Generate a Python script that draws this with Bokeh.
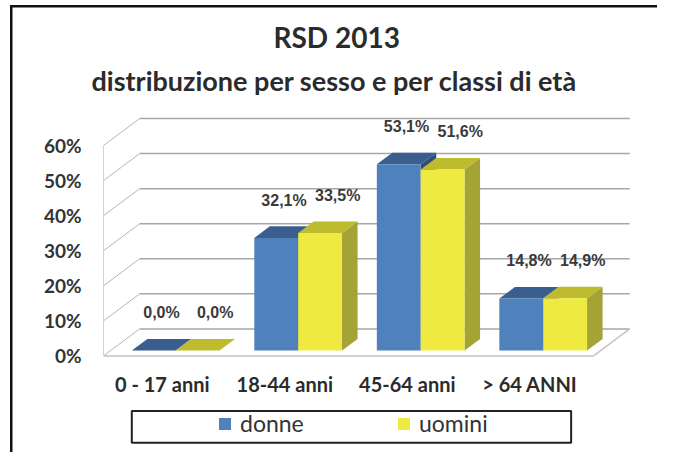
from bokeh.plotting import figure
from bokeh.models import ColumnDataSource, Legend, LegendItem, Title
from bokeh.core.properties import value
from bokeh.embed import file_html
from bokeh.resources import INLINE

# ---------------- data ----------------
categories = ["0 - 17 anni", "18-44 anni", "45-64 anni", "> 64 ANNI"]
donne = [0.0, 32.1, 53.1, 14.8]
uomini = [0.0, 33.5, 51.6, 14.9]
series_names = ["donne", "uomini"]
y_ticks = [0, 10, 20, 30, 40, 50, 60]
y_tick_labels = ["0%", "10%", "20%", "30%", "40%", "50%", "60%"]
title_text = "RSD 2013"
subtitle_text = "distribuzione per sesso e per classi di età"

# ---------------- style / geometry ----------------
FRONT = {"donne": "#4F81BD", "uomini": "#EEEA42"}
TOP = {"donne": "#3A5F8E", "uomini": "#BEBC2E"}
SIDE = {"donne": "#2F4F7A", "uomini": "#A3A336"}
DX, DY = 0.295, 7.7          # depth offset (x units, % units)
Z0, Z1 = 0.2, 0.63           # bar depth span
BAR_W = 0.358
GROUP_OFF = 0.53
LABEL_DX = {"donne": 0.0, "uomini": 0.08}
LABEL_GAP = 12.3
N = len(categories)
FONT = "Lato"
GRID = "#A6A6A6"

p = figure(width=657, height=452, x_range=(0, 4.522), y_range=(-27.55, 72.56),
           output_backend="svg", toolbar_location=None, x_axis_location=None,
           title=None, min_border_left=103, min_border_right=0,
           min_border_top=101, min_border_bottom=0)
p.outline_line_color = None
p.grid.visible = False
p.background_fill_color = "white"
p.border_fill_color = "white"

# chart-area border (only its top and left edges are in view), painted as
# two background strips of an overlay that stays inside the figure box
p.stylesheets = [":host { position: relative; overflow: hidden; } "
                 ":host::after { content: ''; position: absolute; left: 0; top: 0; "
                 "width: 100%; height: 100%; pointer-events: none; z-index: 10; "
                 "background-image: linear-gradient(#111, #111), linear-gradient(#111, #111); "
                 "background-repeat: no-repeat; "
                 "background-position: 10px 5px, 10px 5px; "
                 "background-size: 100% 2.5px, 2.5px 100%; }"]

# titles
sub = Title(text=subtitle_text, align="left", offset=-12, text_font=FONT,
            text_font_size="27px", text_font_style="bold", text_color="#2b2b2b")
tit = Title(text=title_text, align="left", offset=170, text_font=FONT,
            text_font_size="28px", text_font_style="bold", text_color="#2b2b2b",
            standoff=5)
p.add_layout(sub, "above")
p.add_layout(tit, "above")

# y axis
ax = p.yaxis[0]
ax.ticker = y_ticks
ax.major_label_overrides = {t: l for t, l in zip(y_ticks, y_tick_labels)}
ax.axis_line_color = None
ax.major_tick_line_color = None
ax.minor_tick_line_color = None
ax.major_tick_out = 0
ax.major_tick_in = 0
ax.major_label_standoff = 22
ax.major_label_text_font = FONT
ax.major_label_text_font_size = "19px"
ax.major_label_text_font_style = "bold"
ax.major_label_text_color = "#333333"

# walls
top_tick = max(y_ticks)
p.segment(x0=[DX] * len(y_ticks), y0=[t + DY for t in y_ticks],
          x1=[N + DX] * len(y_ticks), y1=[t + DY for t in y_ticks],
          line_color=GRID, line_width=1.5)
p.segment(x0=[0] * len(y_ticks), y0=y_ticks, x1=[DX] * len(y_ticks),
          y1=[t + DY for t in y_ticks], line_color="#B5B5B5", line_width=1)
p.segment(x0=[0], y0=[0], x1=[0], y1=[top_tick], line_color=GRID, line_width=1)
p.segment(x0=[0, N], y0=[0, 0], x1=[N, N + DX], y1=[0, DY],
          line_color="#C4C4C4", line_width=1.5)

# bars
fronts = {}
for k, (name, vals) in enumerate(zip(series_names, [donne, uomini])):
    x0 = [i + GROUP_OFF - BAR_W + k * BAR_W for i in range(N)]
    x1 = [a + BAR_W for a in x0]
    side_xs = [[b + Z0 * DX, b + Z1 * DX, b + Z1 * DX, b + Z0 * DX] for b in x1]
    side_ys = [[Z0 * DY, Z1 * DY, v + Z1 * DY, v + Z0 * DY] for v in vals]
    top_xs = [[a + Z0 * DX, b + Z0 * DX, b + Z1 * DX, a + Z1 * DX] for a, b in zip(x0, x1)]
    top_ys = [[v + Z0 * DY, v + Z0 * DY, v + Z1 * DY, v + Z1 * DY] for v in vals]
    p.patches(xs=side_xs, ys=side_ys, fill_color=SIDE[name], line_color=None)
    p.patches(xs=top_xs, ys=top_ys, fill_color=TOP[name], line_color=None)
    src = ColumnDataSource(dict(
        left=[a + Z0 * DX for a in x0], right=[b + Z0 * DX for b in x1],
        bottom=[Z0 * DY] * N, top=[v + Z0 * DY for v in vals]))
    fronts[name] = p.quad(left="left", right="right", bottom="bottom", top="top",
                          source=src, fill_color=FRONT[name], line_color=None)
    lab = ColumnDataSource(dict(
        x=[(a + b) / 2 + (Z0 + Z1) / 2 * DX + LABEL_DX[name] for a, b in zip(x0, x1)],
        y=[v + LABEL_GAP for v in vals],
        text=[("%.1f%%" % v).replace(".", ",") for v in vals]))
    p.text(x="x", y="y", text="text", source=lab, text_align="center",
           text_baseline="middle", text_font=value("Liberation Sans"),
           text_font_size="16px", text_font_style="bold", text_color="#3a3a3a")

# category labels
p.text(x=[i + 0.48 for i in range(N)], y=[-8.0] * N, text=categories,
       text_align="center", text_baseline="middle", text_font=value(FONT),
       text_font_size="20px", text_font_style="bold", text_color="#2b2b2b")

# legend frame and legend
p.quad(left=[0.231], right=[3.817], bottom=[-24.8], top=[-15.7],
       fill_color=None, line_color="#222222", line_width=2)
legend = Legend(items=[LegendItem(label=n, renderers=[fronts[n]]) for n in series_names],
                orientation="horizontal", location=(114, 15), padding=0,
                spacing=36, label_width=120, glyph_width=15, glyph_height=15,
                label_standoff=8, border_line_color=None, background_fill_alpha=0,
                label_text_font=FONT, label_text_font_size="23px",
                label_text_color="#333333")
p.add_layout(legend)

open("out.html", "w").write(file_html(p, INLINE))
